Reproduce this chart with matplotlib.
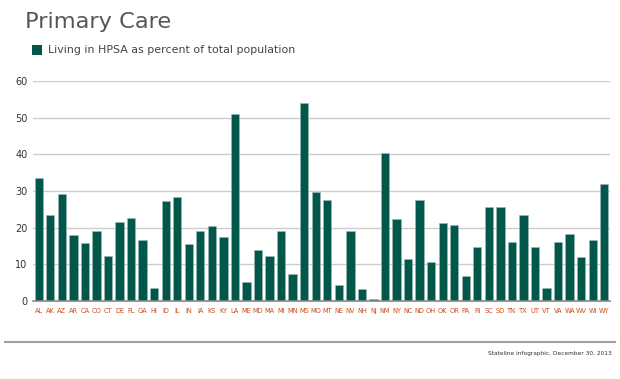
import matplotlib
matplotlib.use("Agg")
import matplotlib.pyplot as plt

states = ["AL","AK","AZ","AR","CA","CO","CT","DE","FL","GA","HI","ID","IL","IN","IA","KS","KY","LA",
          "ME","MD","MA","MI","MN","MS","MO","MT","NE","NV","NH","NJ","NM","NY","NC","ND","OH","OK",
          "OR","PA","RI","SC","SD","TN","TX","UT","VT","VA","WA","WV","WI","WY"]
values = [33.5,23.5,29.2,18.1,15.9,19.0,12.4,21.5,22.7,16.6,3.6,27.4,28.5,15.5,19.1,20.5,17.5,50.9,
          5.1,13.9,12.3,19.0,7.5,54.0,29.6,27.5,4.5,19.2,3.2,0.6,40.4,22.4,11.5,27.6,10.6,21.2,
          20.6,6.7,14.6,25.6,25.6,16.0,23.4,14.8,3.5,16.0,18.2,11.9,16.7,31.9]
yticks = [0, 10, 20, 30, 40, 50, 60]

bar_color = "#02574b"
fig = plt.figure(figsize=(6.2, 3.79), dpi=100)
ax = fig.add_axes([33/620, (379-301)/379, (610-33)/620, 220/379])

x = list(range(len(states)))
ax.bar(x, values, width=0.72, color=bar_color, edgecolor="#9bbdb5", linewidth=0.4, zorder=3)
ax.set_xlim(-0.5, len(states) - 0.5)
ax.set_ylim(0, 60)
ax.set_yticks(yticks)
ax.set_yticklabels([str(t) for t in yticks], fontsize=7, color="#333333")
ax.set_xticks(x)
ax.set_xticklabels(states, fontsize=4.8, color="#c8501e")
ax.tick_params(axis="x", length=0, pad=5)
ax.tick_params(axis="y", length=0, pad=4)
ax.grid(axis="y", color="#cccccc", linewidth=1.0, zorder=0)
for s in ["top", "right", "left"]:
    ax.spines[s].set_visible(False)
ax.spines["bottom"].set_color("#888888")
ax.spines["bottom"].set_linewidth(1.2)
ax.spines["bottom"].set_zorder(4)

fig.text(25/620, 1 - 22/379, "Primary Care", fontsize=16.2, color="#555555", va="center", ha="left")
fig.patches.append(plt.Rectangle((32/620, 1 - 55/379), 10/620, 10/379, transform=fig.transFigure,
                                 facecolor=bar_color, edgecolor="none"))
fig.text(48/620, 1 - 50/379, "Living in HPSA as percent of total population", fontsize=7.9,
         color="#444444", va="center", ha="left")

fig.add_artist(plt.Line2D([5/620, 615/620], [1 - 342/379, 1 - 342/379], transform=fig.transFigure,
                          color="#a0a0a0", linewidth=1.5))
fig.text(612/620, 1 - 354/379, "Stateline infographic, December 30, 2013", fontsize=4.2,
         color="#333333", va="center", ha="right")

fig.savefig("out.png", dpi=100)
